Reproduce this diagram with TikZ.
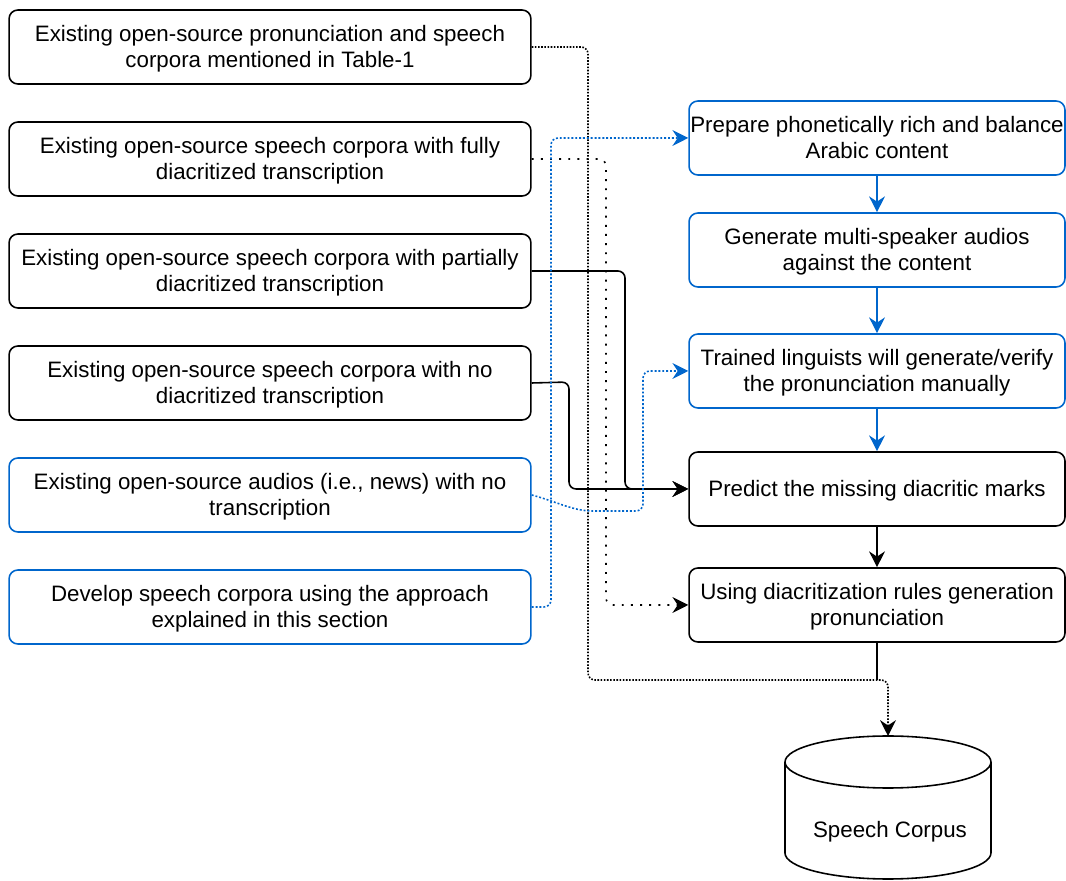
\documentclass[tikz,border=0pt]{standalone}
\usepackage{fontspec}
\setmainfont{Liberation Sans}
\usepackage{xcolor}
\usetikzlibrary{arrows.meta}
\definecolor{flowblue}{HTML}{0066CC}

\begin{document}
\begin{tikzpicture}[x = 0.02cm, y = -0.02cm,
        box/.style = {draw, rounded corners = 5pt, line width = 0.9pt, align = center, inner sep = 0pt,
            font = \fontsize{12.7}{14.7}\selectfont, minimum height = 1.48cm, text depth = 0.3pt},
        src/.style = {box, minimum width = 10.44cm},
        stage/.style = {box, minimum width = 7.52cm},
        link/.style = {line width = 0.9pt, rounded corners = 4pt, -{Stealth[length = 9pt, width = 9pt, inset = 3pt]}},
        finedots/.style = {link, dash pattern = on 0.9pt off 0.9pt},
        widedots/.style = {link, dash pattern = on 1.1pt off 4.1pt},
        bluedots/.style = {link, flowblue, dash pattern = on 1.1pt off 1.1pt}]
        \useasboundingbox (0, 0) rectangle (1066, 881);

        % sources on the left
        \node[src] (src1) at (270, 47) {Existing open-source pronunciation and speech\\corpora mentioned in Table-1};
        \node[src] (src2) at (270, 159) {Existing open-source speech corpora with fully\\diacritized transcription};
        \node[src] (src3) at (270, 271) {Existing open-source speech corpora with partially\\diacritized transcription};
        \node[src] (src4) at (270, 383) {Existing open-source speech corpora with no\\diacritized transcription};
        \node[src, flowblue, text = black] (src5) at (270, 495) {Existing open-source audios (i.e., news) with no\\transcription};
        \node[src, flowblue, text = black] (src6) at (270, 607) {Develop speech corpora using the approach\\explained in this section};

        % pipeline on the right
        \node[stage, flowblue, text = black] (stage1) at (877, 138) {Prepare phonetically rich and balance\\Arabic content};
        \node[stage, flowblue, text = black] (stage2) at (877, 250) {Generate multi-speaker audios\\against the content};
        \node[stage, flowblue, text = black] (stage3) at (877, 371) {Trained linguists will generate/verify\\the pronunciation manually};
        \node[stage] (stage4) at (877, 489) {Predict the missing diacritic marks};
        \node[stage] (stage5) at (877, 605) {Using diacritization rules generation\\pronunciation};

        % the corpus store
        \draw[line width = 0.9pt] (785, 762) -- (785, 853) arc[start angle = 180, end angle = 360, x radius = 2.06cm, y radius = 0.52cm] -- (991, 762);
        \draw[line width = 0.9pt] (888, 762) ellipse [x radius = 2.06cm, y radius = 0.52cm];
        \coordinate (corpus) at (888, 736);
        \node[font = \fontsize{12.7}{14.7}\selectfont] (corpuslbl) at (890, 832) {Speech Corpus};
        \coordinate (merge) at (888, 680);

        \draw[link, flowblue] (stage1.south) -- (stage2.north);
        \draw[link, flowblue] (stage2.south) -- (stage3.north);
        \draw[link, flowblue] (stage3.south) -- (stage4.north);
        \draw[link] (stage4.south) -- (stage5.north);
        \draw[line width = 0.9pt] (stage5.south) -- (stage5.south |- merge);

        \draw[finedots] (src1.east) -- (588, 47) -- (588, 680) -- (merge) -- (corpus);
        \draw[widedots] (src2.east) -- (606, 159) -- (606, 605) -- (stage5.west);
        \draw[link] (src3.east) -- (625, 271) -- (625, 489) -- (stage4.west);
        \draw[link] (src4.east) -- (569, 382) -- (569, 489) -- (stage4.west);
        \draw[bluedots] (src5.east) to[out = -15, in = 180] (600, 511) -- (643, 511) -- (643, 371) -- (stage3.west);
        \draw[bluedots] (src6.east) -- (551, 607) -- (551, 138) -- (stage1.west);
    \end{tikzpicture}
\end{document}
